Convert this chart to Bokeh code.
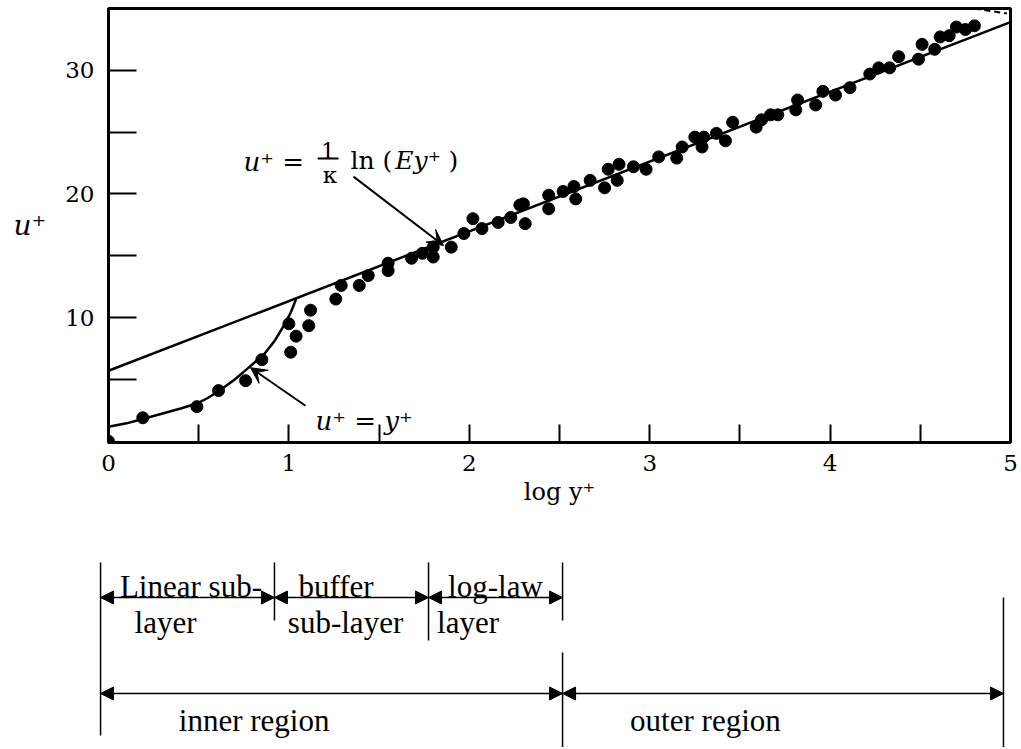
from bokeh.plotting import figure
from bokeh.models import Range1d, FixedTicker, Label, Arrow, NormalHead, VeeHead
from bokeh.embed import file_html
from bokeh.resources import INLINE

# ---------------- data ----------------
# measured points (log y+, u+)
pts_x = [0.0, 0.19, 0.49, 0.61, 0.76, 0.85, 1.0, 1.04, 1.01, 1.11, 1.12, 1.26, 1.29,
         1.39, 1.44, 1.55, 1.55, 1.68, 1.74, 1.80, 1.80, 1.90, 1.97, 2.02, 2.07, 2.16,
         2.23, 2.28, 2.31, 2.30, 2.44, 2.44, 2.52, 2.59, 2.58, 2.67, 2.75, 2.77, 2.82,
         2.83, 2.91, 2.98, 3.05, 3.15, 3.18, 3.25, 3.29, 3.30, 3.37, 3.42, 3.46, 3.59,
         3.62, 3.67, 3.71, 3.81, 3.82, 3.92, 3.96, 4.03, 4.11, 4.22, 4.27, 4.33, 4.38,
         4.49, 4.51, 4.58, 4.61, 4.66, 4.70, 4.75, 4.80]
pts_u = [0.0, 1.9, 2.8, 4.1, 4.9, 6.6, 9.5, 8.5, 7.2, 9.35, 10.6, 11.5, 12.6,
         12.6, 13.4, 14.4, 13.8, 14.8, 15.2, 15.7, 14.9, 15.7, 16.8, 18.0, 17.2, 17.7,
         18.1, 19.1, 17.6, 19.2, 18.8, 19.9, 20.2, 19.6, 20.6, 21.1, 20.5, 22.0, 21.1,
         22.4, 22.2, 22.0, 23.0, 22.9, 23.8, 24.6, 23.8, 24.6, 24.9, 24.3, 25.8, 25.4,
         26.0, 26.4, 26.4, 26.8, 27.6, 27.2, 28.3, 28.0, 28.6, 29.7, 30.2, 30.2, 31.1,
         30.9, 32.1, 31.7, 32.7, 32.8, 33.5, 33.3, 33.6]

# log-law line u+ = (1/kappa) ln(E y+)  (straight in log y+)
loglaw_x = [0.0, 5.0]
loglaw_u = [5.7, 33.9]

# linear sub-layer curve u+ = y+
linear_x = [0.0, 0.1, 0.19, 0.3, 0.4, 0.49, 0.55, 0.61, 0.7, 0.78, 0.86, 0.92, 0.97, 1.01, 1.04]
linear_u = [1.17, 1.45, 1.8, 2.25, 2.65, 3.05, 3.5, 4.05, 5.0, 6.0, 7.0, 8.1, 9.3, 10.4, 11.5]

# short dashed trace at top right
dash_x = [4.80, 4.98]
dash_u = [35.0, 34.6]

x_ticks = [0, 1, 2, 3, 4, 5]
x_minor = [0.5, 1.5, 2.5, 3.5, 4.5]
y_ticks = [10, 20, 30]
y_minor = [5, 15, 25]

# schematic below the chart (boundaries in log y+ units)
layer_edges = [-0.044, 0.92, 1.774, 2.517]
layer_names_top = ["Linear sub-", "buffer", "log-law"]
layer_names_bot = ["layer", "sub-layer", "layer"]
region_edges = [-0.044, 2.517, 4.961]
region_names = ["inner region", "outer region"]

SERIF = "DejaVu Serif"
TIMES = "Liberation Serif"
PX_PER_UNIT = 902 / 5.0   # horizontal scale shared by chart and schematic
LEFT = 108                # chart frame left edge (px)
W = 1019

# ---------------- main chart ----------------
p = figure(width=W, height=528, x_range=Range1d(0, 5), y_range=Range1d(-0.1, 35.0),
           output_backend="svg", toolbar_location=None,
           min_border_left=LEFT, min_border_right=W - LEFT - 902,
           min_border_top=8, min_border_bottom=86)
p.grid.visible = False
p.outline_line_color = "black"
p.outline_line_width = 3
p.background_fill_color = "white"
p.border_fill_color = "white"

xa = p.xaxis[0]
xa.ticker = FixedTicker(ticks=x_ticks, minor_ticks=x_minor)
ya = p.yaxis[0]
ya.ticker = FixedTicker(ticks=y_ticks, minor_ticks=y_minor)
for ax, tin in ((xa, 18), (ya, 28)):
    ax.axis_line_width = 3
    ax.axis_line_color = "black"
    ax.major_tick_in = tin
    ax.major_tick_out = 0
    ax.minor_tick_in = tin
    ax.minor_tick_out = 0
    ax.major_tick_line_width = 2
    ax.minor_tick_line_width = 2
    ax.major_tick_line_color = "black"
    ax.minor_tick_line_color = "black"
    ax.major_label_text_font = SERIF
    ax.major_label_text_font_size = "23px"
    ax.major_label_text_color = "black"
    ax.axis_label_text_font = SERIF
    ax.axis_label_text_color = "black"

xa.major_label_standoff = 12
xa.axis_label = "log y⁺"
xa.axis_label_text_font_size = "24px"
xa.axis_label_text_font_style = "normal"
xa.axis_label_standoff = 4
ya.major_label_standoff = 14
ya.axis_label = "u⁺"
ya.axis_label_text_font_size = "28px"
ya.axis_label_text_font_style = "italic"
ya.axis_label_standoff = 16
try:
    ya.axis_label_orientation = "horizontal"
except Exception:
    pass

p.line(loglaw_x, loglaw_u, line_color="black", line_width=2.5)
p.line(linear_x, linear_u, line_color="black", line_width=2.5)
p.line(dash_x, dash_u, line_color="black", line_width=2, line_dash="6 4")
p.scatter(pts_x, pts_u, size=12, marker="circle", fill_color="black", line_color="black")

def lab(x, y, text, style="normal", size="25px", align="left", font=SERIF):
    p.add_layout(Label(x=x, y=y, text=text, text_font=font, text_font_size=size,
                       text_font_style=style, text_align=align,
                       text_baseline="alphabetic", text_color="black"))

# equation of the log law
lab(0.748, 22.55, "u⁺ =", style="italic", size="26px")
lab(1.217, 23.5, "1", align="center", size="22px")
p.segment(x0=[1.16], y0=[22.87], x1=[1.275], y1=[22.87], line_color="black", line_width=2)
lab(1.228, 21.5, "κ", align="center", size="23px")
lab(1.341, 22.7, "ln (")
lab(1.59, 22.7, "Ey⁺", style="italic")
lab(1.885, 22.7, ")")
p.add_layout(Arrow(end=VeeHead(size=16, fill_color="black", line_color="black"),
                   x_start=1.358, y_start=21.4, x_end=1.857, y_end=15.83,
                   line_color="black", line_width=2))

# equation of the linear sub-layer
lab(1.147, 1.66, "u⁺ = y⁺", style="italic", size="26px")
p.add_layout(Arrow(end=VeeHead(size=16, fill_color="black", line_color="black"),
                   x_start=1.092, y_start=2.87, x_end=0.787, y_end=5.95,
                   line_color="black", line_width=2))

# ---------------- schematic of layers ----------------
q = figure(width=W, height=219,
           x_range=Range1d(-LEFT / PX_PER_UNIT, (W - LEFT) / PX_PER_UNIT),
           y_range=Range1d(2, 221), output_backend="svg", toolbar_location=None,
           x_axis_location=None, y_axis_location=None, min_border=0,
           min_border_left=0, min_border_right=0, min_border_top=0, min_border_bottom=0)
q.grid.visible = False
q.outline_line_color = None
q.background_fill_color = "white"
q.border_fill_color = "white"

# vertical boundary lines
q.segment(x0=[layer_edges[0]], y0=[187], x1=[layer_edges[0]], y1=[14], line_color="black", line_width=1.5)
q.segment(x0=layer_edges[1:], y0=[187, 187, 187], x1=layer_edges[1:], y1=[129, 109, 129],
          line_color="black", line_width=1.5)
q.segment(x0=region_edges[1:], y0=[97, 152], x1=region_edges[1:], y1=[-10, -10],
          line_color="black", line_width=1.5)

def darrow(x0, x1, y):
    q.add_layout(Arrow(start=NormalHead(size=13, fill_color="black", line_color="black"),
                       end=NormalHead(size=13, fill_color="black", line_color="black"),
                       x_start=x0, y_start=y, x_end=x1, y_end=y,
                       line_color="black", line_width=1.5))

for i in range(3):
    darrow(layer_edges[i], layer_edges[i + 1], 152)
for i in range(2):
    darrow(region_edges[i], region_edges[i + 1], 56)

def qlab(x, y, text):
    q.add_layout(Label(x=x, y=y, text=text, text_font=TIMES, text_font_size="31px",
                       text_align="center", text_baseline="alphabetic", text_color="black"))

top_cx = [0.457, 1.261, 2.145]
bot_cx = [0.316, 1.314, 1.993]
for cx, t in zip(top_cx, layer_names_top):
    qlab(cx, 163, t)
for cx, t in zip(bot_cx, layer_names_bot):
    qlab(cx, 127, t)
for cx, t in zip([0.807, 3.309], region_names):
    qlab(cx, 29, t)

open("out.html", "w").write(file_html([p, q], INLINE))
